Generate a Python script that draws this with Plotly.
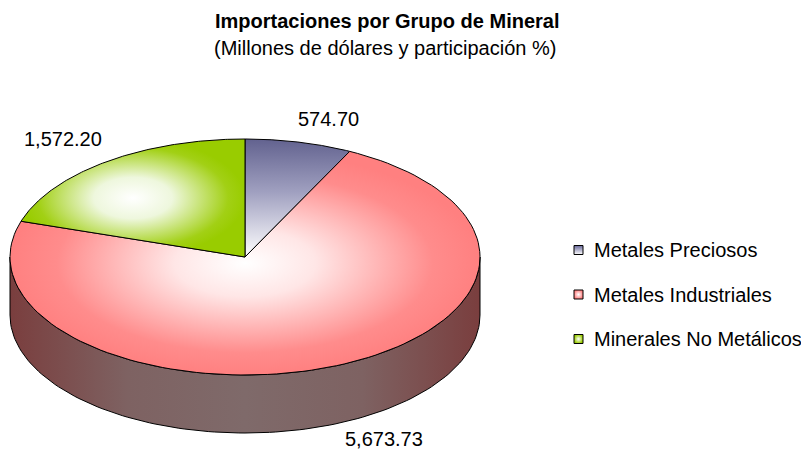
import math
import plotly.graph_objects as go

# ---------------- data ----------------
categories = ["Metales Preciosos", "Metales Industriales", "Minerales No Metálicos"]
values = [574.70, 5673.73, 1572.20]
title_text = "Importaciones por Grupo de Mineral"
subtitle_text = "(Millones de dólares y participación %)"

# ---------------- style / layout ----------------
W, H = 801, 452
FONT = "Arial, Liberation Sans, sans-serif"
CX, CY = 245, 257          # centre of top face (pixels, y down)
RA, RB = 235, 118          # ellipse semi-axes
DEPTH = 58                 # pie thickness

top_colors = ["#666699", "#ff8080", "#99cc00"]
top_grad = [
    dict(type="vertical", colorscale=[[0, "#ffffff"], [0.55, "#a0a0c0"], [1, "#62628f"]]),
    dict(type="radial", colorscale=[[0, "#ffffff"], [0.3, "#ffe6e6"], [0.8, "#ff8c8c"], [1, "#ff8080"]]),
    dict(type="radial", colorscale=[[0, "#ffffff"], [0.35, "#eef7dd"], [0.85, "#a2d015"], [1, "#99cc00"]]),
]
side_grad = dict(type="horizontal", colorscale=[[0, "#7a3e3e"], [0.25, "#7e6262"], [0.5, "#7f6a6a"],
                                                [0.75, "#7e6262"], [1, "#7a3e3e"]])
marker_grad = [
    dict(type="vertical", color="#ffffff"),
    dict(type="radial", color="#ffffff"),
    dict(type="radial", color="#ffffff"),
]


def pt(theta_deg, drop=0.0):
    t = math.radians(theta_deg)
    x = CX + RA * math.sin(t)
    y_pix = CY - RB * math.cos(t) + drop
    return x, H - y_pix


def arc(a0, a1, drop=0.0, n=120):
    xs, ys = [], []
    for i in range(n + 1):
        x, y = pt(a0 + (a1 - a0) * i / n, drop)
        xs.append(x)
        ys.append(y)
    return xs, ys


total = sum(values)
fig = go.Figure()

# angle ranges (clockwise from 12 o'clock)
starts, ends = [], []
acc = 0.0
for v in values:
    starts.append(acc)
    acc += v / total * 360
    ends.append(acc)

# ---- side walls (visible front half: 90..270 deg) ----
for i in range(len(values)):
    s0, s1 = max(starts[i], 90.0), min(ends[i], 270.0)
    if s1 <= s0:
        continue
    tx, ty = arc(s0, s1)
    bx, by = arc(s1, s0, DEPTH)
    xs = tx + bx + [tx[0]]
    ys = ty + by + [ty[0]]
    fig.add_trace(go.Scatter(x=xs, y=ys, mode="lines", fill="toself",
                             fillgradient=side_grad, line=dict(color="black", width=1),
                             hoverinfo="skip", showlegend=False))

# ---- top faces ----
c0x, c0y = CX, H - CY
for i in range(len(values)):
    ax, ay = arc(starts[i], ends[i])
    xs = [c0x] + ax + [c0x]
    ys = [c0y] + ay + [c0y]
    fig.add_trace(go.Scatter(x=xs, y=ys, mode="lines", fill="toself",
                             fillgradient=top_grad[i], line=dict(color="black", width=1),
                             hoverinfo="skip", showlegend=False))

# ---- data labels ----
for i, v in enumerate(values):
    mid = (starts[i] + ends[i]) / 2
    lower = math.cos(math.radians(mid)) < 0
    x, y = pt(mid, DEPTH if lower else 0)
    right = math.sin(math.radians(mid)) >= 0
    fig.add_annotation(x=x, y=y, text=f"{v:,.2f}", showarrow=False,
                       xanchor="left" if right else "right",
                       yanchor="top" if lower else "bottom",
                       xshift=(6 if lower else -3) if right else -2,
                       yshift=-2 if lower else 10,
                       font=dict(family=FONT, size=20, color="#000000"))

# ---- legend ----
LEG_X, LEG_Y0, LEG_DY = 578.5, 250, 44.5
for i, name in enumerate(categories):
    yy = H - (LEG_Y0 + i * LEG_DY)
    fig.add_trace(go.Scatter(x=[LEG_X], y=[yy], mode="markers",
                             marker=dict(symbol="square", size=9, color=top_colors[i],
                                         gradient=marker_grad[i],
                                         line=dict(color="black", width=1)),
                             hoverinfo="skip", showlegend=False))
    fig.add_annotation(x=LEG_X + 13, y=yy, text=name, showarrow=False,
                       xanchor="left", yanchor="middle",
                       font=dict(family=FONT, size=20, color="#000000"))

# ---- titles ----
fig.add_annotation(x=387, y=H - 21, text=f"<b>{title_text}</b>", showarrow=False,
                   xanchor="center", yanchor="middle",
                   font=dict(family=FONT, size=20, color="#000000"))
fig.add_annotation(x=385, y=H - 48, text=subtitle_text, showarrow=False,
                   xanchor="center", yanchor="middle",
                   font=dict(family=FONT, size=20, color="#000000"))

fig.update_layout(
    width=W, height=H, margin=dict(l=0, r=0, t=0, b=0),
    paper_bgcolor="white", plot_bgcolor="white", showlegend=False,
    xaxis=dict(range=[0, W], visible=False, fixedrange=True),
    yaxis=dict(range=[0, H], visible=False, fixedrange=True),
)

fig.write_html("out.html", config={"displayModeBar": False},
               post_script="document.body.style.margin='0';document.body.style.padding='0';")
